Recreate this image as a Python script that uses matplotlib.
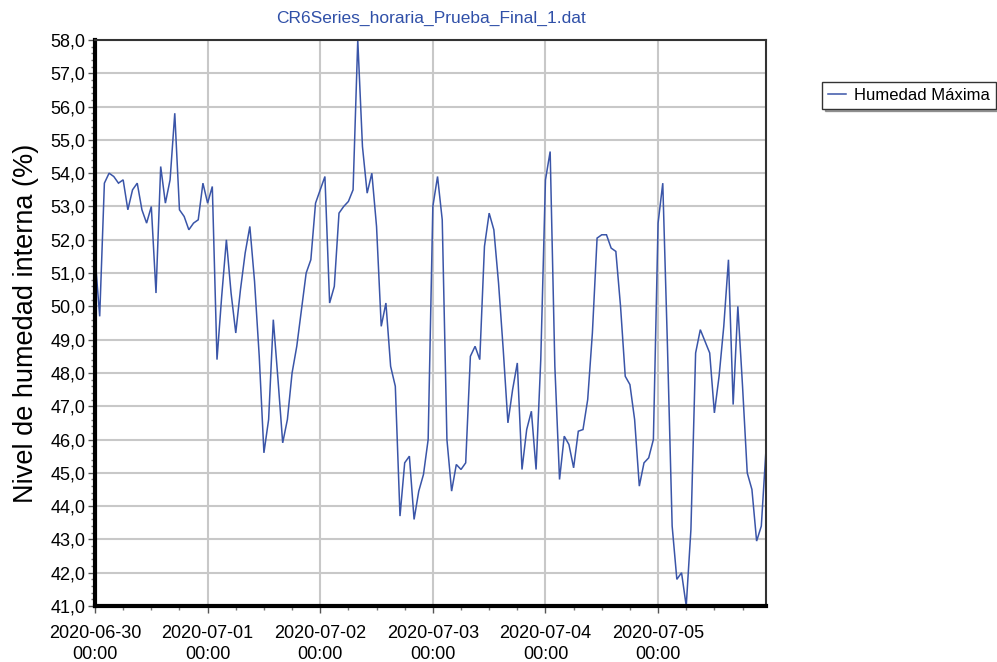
import numpy as np
import pandas as pd
import matplotlib
matplotlib.use("Agg")
import matplotlib.pyplot as plt
import matplotlib.dates as mdates
from matplotlib.ticker import MultipleLocator, FuncFormatter

# ---------- Data (hourly maximum humidity) ----------
START = "2020-06-30 00:00"

day1 = [51.5, 49.7, 53.7, 54.0, 53.9, 53.7, 53.8, 52.9, 53.5, 53.7, 52.9, 52.5,
        53.0, 50.4, 54.2, 53.1, 53.8, 55.8, 52.9, 52.7, 52.3, 52.5, 52.6, 53.7]
day2 = [53.1, 53.6, 48.4, 50.3, 52.0, 50.4, 49.2, 50.5, 51.6, 52.4, 50.75, 48.5,
        45.6, 46.6, 49.6, 47.8, 45.9, 46.6, 48.0, 48.8, 49.9, 51.0, 51.4, 53.1]
day3 = [53.5, 53.9, 50.1, 50.6, 52.8, 53.0, 53.15, 53.5, 58.0, 54.8, 53.4, 54.0,
        52.4, 49.4, 50.1, 48.2, 47.6, 43.7, 45.3, 45.5, 43.6, 44.45, 44.95, 46.0]
day4 = [53.0, 53.9, 52.6, 46.0, 44.45, 45.25, 45.1, 45.3, 48.5, 48.8, 48.4, 51.8,
        52.8, 52.3, 50.7, 48.7, 46.5, 47.5, 48.3, 45.1, 46.3, 46.85, 45.1, 48.4]
day5 = [53.8, 54.65, 48.2, 44.8, 46.1, 45.85, 45.15, 46.25, 46.3, 47.2, 49.2, 52.05,
        52.15, 52.15, 51.75, 51.65, 50.0, 47.9, 47.65, 46.6, 44.6, 45.3, 45.45, 46.0]
day6 = [52.5, 53.7, 48.8, 43.4, 41.8, 42.0, 41.0, 43.3, 48.6, 49.3, 48.95, 48.6,
        46.8, 47.9, 49.4, 51.4, 47.05, 50.0, 47.6, 45.0, 44.5, 42.95, 43.4, 45.7]

humedad = day1 + day2 + day3 + day4 + day5 + day6
times = pd.date_range(START, periods=len(humedad), freq="h")

TITLE = "CR6Series_horaria_Prueba_Final_1.dat"
YLABEL = "Nivel de humedad interna (%)"
SERIES = "Humedad Máxima"

LINE_COLOR = "#3A55A8"
GRID_COLOR = "#C8C8C8"

plt.rcParams["font.family"] = ["Liberation Sans", "DejaVu Sans"]


def main():
    fig = plt.figure(figsize=(9.97, 6.62), dpi=100)
    ax = fig.add_axes([95 / 997, 1 - 606 / 662, (766 - 95) / 997, (606 - 40) / 662])

    ax.plot(times, humedad, color=LINE_COLOR, lw=1.1, label=SERIES,
            solid_joinstyle="miter")

    ax.set_xlim(times[0], times[-1])
    ax.set_ylim(41, 58)

    # y axis: comma decimal labels, minor ticks every 0.2
    ax.yaxis.set_major_locator(MultipleLocator(1))
    ax.yaxis.set_minor_locator(MultipleLocator(0.2))
    ax.yaxis.set_major_formatter(FuncFormatter(lambda v, p: f"{v:.1f}".replace(".", ",")))

    # x axis: daily majors, 6-hourly minors
    ax.xaxis.set_major_locator(mdates.DayLocator())
    ax.xaxis.set_minor_locator(mdates.HourLocator(byhour=[6, 12, 18]))
    ax.xaxis.set_major_formatter(mdates.DateFormatter("%Y-%m-%d\n%H:%M"))

    ax.tick_params(axis="both", which="major", labelsize=13, length=5,
                   width=1, color="#555555")
    ax.tick_params(axis="y", which="major", pad=2)
    ax.tick_params(axis="x", which="major", pad=9)
    ax.tick_params(axis="both", which="minor", length=3, width=1, color="#777777")
    for lbl in ax.get_xticklabels():
        lbl.set_linespacing(1.3)

    ax.grid(True, which="major", color=GRID_COLOR, lw=1.5)
    ax.set_axisbelow(True)

    ax.spines["left"].set_linewidth(3)
    ax.spines["left"].set_color("black")
    ax.spines["bottom"].set_linewidth(3)
    ax.spines["bottom"].set_color("black")
    ax.spines["top"].set_linewidth(1.5)
    ax.spines["top"].set_color("#333333")
    ax.spines["right"].set_linewidth(1.5)
    ax.spines["right"].set_color("#333333")

    ax.set_title(TITLE, color="#3050A8", fontsize=12.5, pad=12)
    ax.set_ylabel(YLABEL, fontsize=19.5, va="center")
    ax.yaxis.set_label_coords(-0.103, 0.5)

    leg = fig.legend(loc="upper left", bbox_to_anchor=(822 / 997, 1 - 82 / 662),
                     frameon=True, fancybox=False, shadow=True, fontsize=12,
                     handlelength=1.1, borderpad=0.35, handletextpad=0.5,
                     borderaxespad=0)
    leg.get_frame().set_edgecolor("#333333")
    leg.get_frame().set_linewidth(1)

    fig.savefig("out.png", dpi=100)
    plt.close(fig)


if __name__ == "__main__":
    main()
